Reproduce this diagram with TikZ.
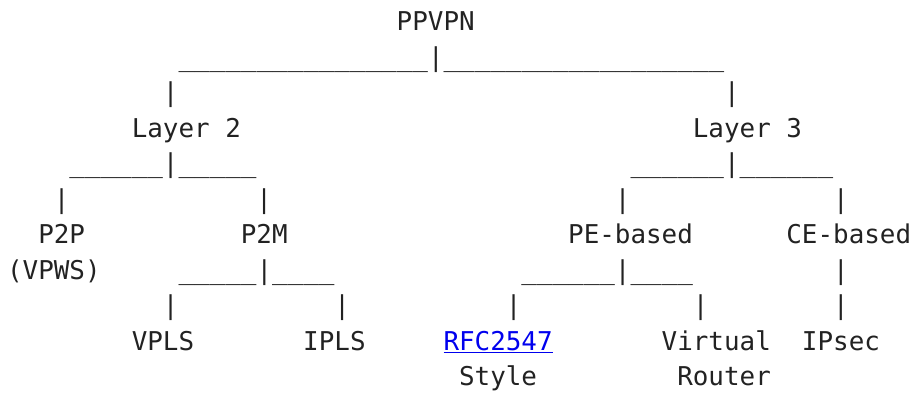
\documentclass[tikz,border=0pt]{standalone}
\usepackage{fontspec}
\newfontfamily\monofnt{DejaVu Sans Mono}
\definecolor{ink}{RGB}{34,34,34}
\definecolor{linkblue}{RGB}{0,0,238}
\tikzset{
  txt/.style={anchor=base west, inner sep=0pt, outer sep=0pt, text=ink,
    font=\monofnt\fontsize{25.9pt}{35.5pt}\selectfont},
  linktxt/.style={txt, text=linkblue},
  underl/.style={draw=linkblue, line width=1.4pt}
}
\begin{document}
\begin{tikzpicture}[x=15.586pt, y=-35.53pt]
\useasboundingbox (-0.4555,-0.8641) rectangle (58.1232,10.1970);
% line 0
\node[txt] (ppvpn) at (25,0) {PPVPN};
% line 1
\node[txt] (topbar) at (11,1) {\_\_\_\_\_\_\_\_\_\_\_\_\_\_\_\_|\_\_\_\_\_\_\_\_\_\_\_\_\_\_\_\_\_\_};
% line 2
\node[txt] (vl2a) at (10,2) {|};
\node[txt] (vl3a) at (46,2) {|};
% line 3
\node[txt] (layer2) at (8,3) {Layer 2};
\node[txt] (layer3) at (44,3) {Layer 3};
% line 4
\node[txt] (l2bar) at (4,4) {\_\_\_\_\_\_|\_\_\_\_\_};
\node[txt] (l3bar) at (40,4) {\_\_\_\_\_\_|\_\_\_\_\_\_};
% line 5
\node[txt] (vp2p) at (3,5) {|};
\node[txt] (vp2m) at (16,5) {|};
\node[txt] (vpe) at (39,5) {|};
\node[txt] (vce) at (53,5) {|};
% line 6
\node[txt] (p2p) at (2,6) {P2P};
\node[txt] (p2m) at (15,6) {P2M};
\node[txt] (pebased) at (36,6) {PE-based};
\node[txt] (cebased) at (50,6) {CE-based};
% line 7
\node[txt] (vpws) at (0,7) {(VPWS)};
\node[txt] (p2mbar) at (11,7) {\_\_\_\_\_|\_\_\_\_};
\node[txt] (pebar) at (33,7) {\_\_\_\_\_\_|\_\_\_\_};
\node[txt] (vce2) at (53,7) {|};
% line 8
\node[txt] (vvpls) at (10,8) {|};
\node[txt] (vipls) at (21,8) {|};
\node[txt] (vrfc) at (32,8) {|};
\node[txt] (vvr) at (44,8) {|};
\node[txt] (vce3) at (53,8) {|};
% line 9
\node[txt] (vpls) at (8,9) {VPLS};
\node[txt] (ipls) at (19,9) {IPLS};
\node[linktxt] (rfc) at (28,9) {RFC2547};
\node[txt] (virtual) at (42,9) {Virtual};
\node[txt] (ipsec) at (51,9) {IPsec};
% line 10
\node[txt] (style) at (29,10) {Style};
\node[txt] (router) at (43,10) {Router};
% link underline
\draw[underl] ([yshift=-2pt]rfc.base west) -- ([yshift=-2pt]rfc.base east);
\end{tikzpicture}
\end{document}
